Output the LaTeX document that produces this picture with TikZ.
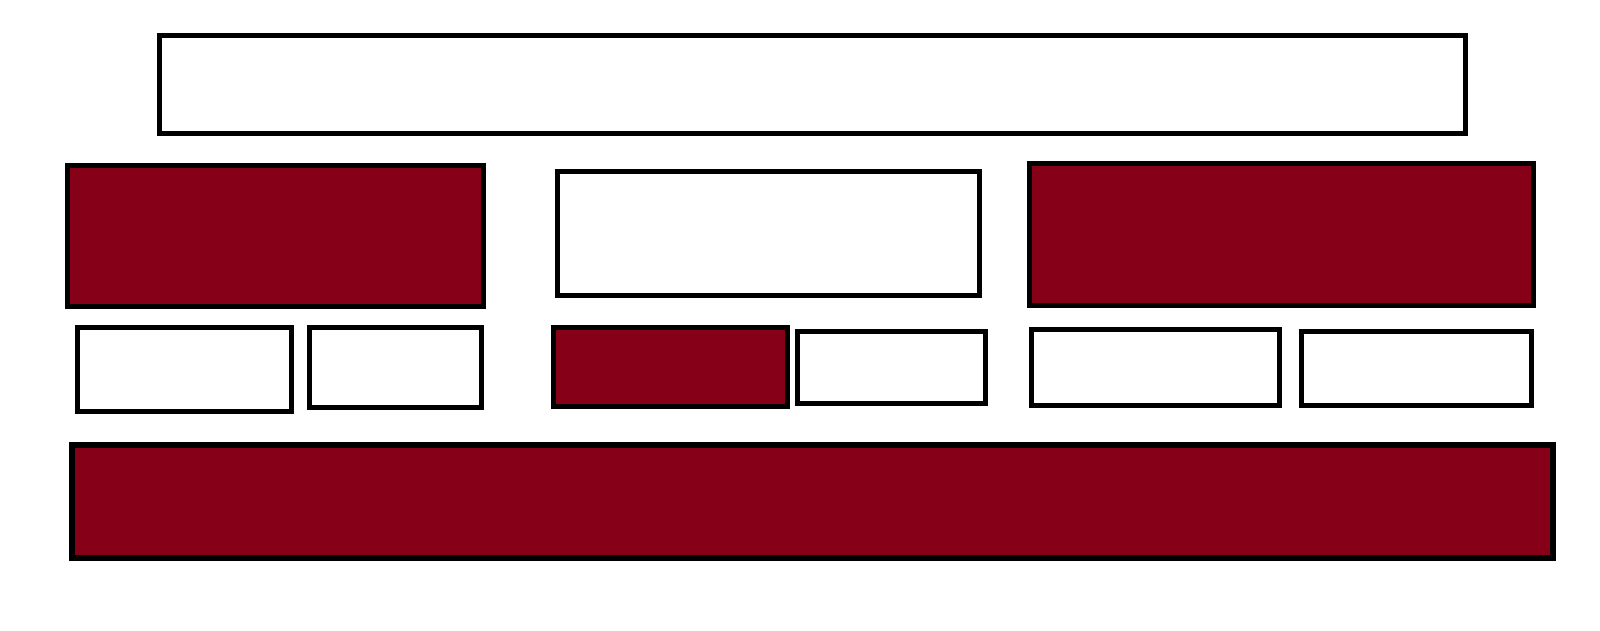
\documentclass[tikz,border=0pt]{standalone}
\definecolor{darkred}{RGB}{134,0,24}
\tikzset{
  box/.style={draw=black, line width=5pt, fill=white, inner sep=0pt, outer sep=0pt, anchor=north west, minimum width=#1},
  redbox/.style={box=#1, fill=darkred},
}
\begin{document}
\begin{tikzpicture}[x=1pt,y=-1pt]
\useasboundingbox (0,0) rectangle (1600,630);
% top banner
\node[box=1306pt, minimum height=97.7pt] (top) at (159.5,35.5) {};
% second row
\node[redbox=415.8pt, minimum height=141.3pt] (rl) at (67.5,165.5) {};
\node[box=421.7pt, minimum height=123.5pt] (rm) at (557.5,171.5) {};
\node[redbox=503.7pt, minimum height=141.7pt] (rr) at (1029.5,163.5) {};
% third row
\node[box=214.3pt, minimum height=84pt] (a) at (77.5,327.5) {};
\node[box=172pt, minimum height=80pt] (b) at (309.2,327.5) {};
\node[redbox=234pt, minimum height=79.6pt] (c) at (553.5,327.2) {};
\node[box=188.3pt, minimum height=71.7pt] (d) at (797.5,331.5) {};
\node[box=248pt, minimum height=75.7pt] (e) at (1031.5,329.5) {};
\node[box=230pt, minimum height=73.7pt] (f) at (1301.5,331.5) {};
% bottom bar
\node[redbox=1481pt, minimum height=113pt, line width=6pt] (bar) at (72,444.5) {};
\end{tikzpicture}
\end{document}
